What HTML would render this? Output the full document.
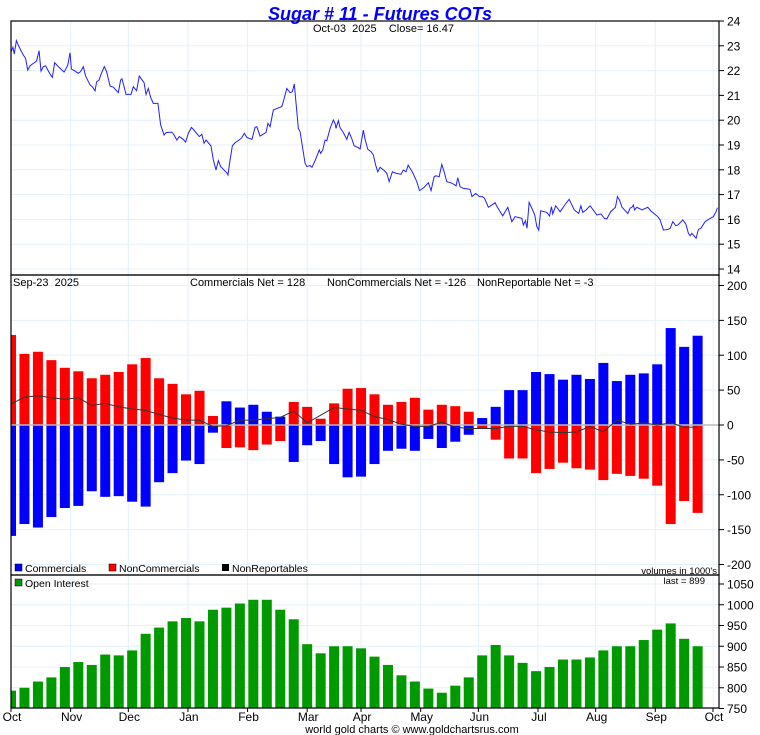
<!DOCTYPE html>
<html><head><meta charset="utf-8">
<style>
html,body{margin:0;padding:0;background:#fff;}
svg{display:block;font-family:"Liberation Sans",sans-serif;}
text{white-space:pre;}
</style></head>
<body>
<svg id="chart" width="760" height="735" viewBox="0 0 760 735" xmlns="http://www.w3.org/2000/svg">
<text x="380" y="20" text-anchor="middle" font-size="18" font-weight="bold" font-style="italic" fill="#0000ff">Sugar # 11 - Futures COTs</text>
<g id="grid"></g>
<g id="marks"></g>
<g id="axes"></g>
<text x="313" y="32" font-size="11" fill="#000" xml:space="preserve">Oct-03  2025    Close= 16.47</text>
<text x="13" y="286" font-size="11" xml:space="preserve">Sep-23  2025</text>
<text x="190" y="286" font-size="11">Commercials Net = 128</text>
<text x="327" y="286" font-size="11">NonCommercials Net = -126</text>
<text x="477" y="286" font-size="11">NonReportable Net = -3</text>
<g font-size="10.5">
<rect x="15" y="564" width="7" height="7" fill="#0000ff" stroke="#000" stroke-width="0.5"/><text x="25" y="572">Commercials</text>
<rect x="109" y="564" width="7" height="7" fill="#ff0000" stroke="#000" stroke-width="0.5"/><text x="119" y="572">NonCommercials</text>
<rect x="222" y="564" width="7" height="7" fill="#000"/><text x="232" y="572">NonReportables</text>
</g>
<text x="717" y="574" font-size="9.5" text-anchor="end">volumes in 1000's</text>
<g font-size="10.5">
<rect x="15" y="579" width="7" height="7" fill="#009900" stroke="#000" stroke-width="0.5"/><text x="25" y="587">Open Interest</text>
</g>
<text x="705" y="584" font-size="9.5" text-anchor="end">last = 899</text>
<text x="412" y="733" font-size="11" text-anchor="middle">world gold charts © www.goldchartsrus.com</text>
</svg>
<script>
const monthLabels=["Oct","Nov","Dec","Jan","Feb","Mar","Apr","May","Jun","Jul","Aug","Sep","Oct"];
const monthDays=[0,31,61,92,123,154,182,213,243,274,304,335,365];
const priceTicks=[14,15,16,17,18,19,20,21,22,23,24];
const cotTicks=[-200,-150,-100,-50,0,50,100,150,200];
const oiTicks=[750,800,850,900,950,1000,1050];
const priceDays=[0,1,1.7,2.8,3.8,5,6.4,7.6,8.7,9.9,11.6,13.3,14.6,15.6,16.8,18,20.3,21.5,22.7,24.6,26,27.6,29.5,30.7,31.4,33.3,35,36.2,37.6,38.8,41.1,42.3,43.7,44.5,45.8,47,48.5,49.7,51.5,53.2,55.8,57,57.7,58.8,59.8,62.4,63.6,65.3,66.7,69.2,70.2,71.4,72.6,74,76.4,77.8,79.6,80.6,83.6,84.8,86.2,87.5,89.3,90.8,92.2,93.8,94.8,97.9,99.2,100.4,101.4,104,105.2,106.6,107.8,109,112.2,112.8,113.9,115.1,116.5,119.1,120,121.3,122.7,125.3,126.9,127.8,129.5,131.2,132.6,133.6,134.7,136.4,138.5,140.8,141.6,143.4,145.1,146.3,147.3,149.4,150.3,152.9,153.8,155.5,156.5,158.1,160.3,161,162.1,163.3,164.2,165.9,167.6,168.5,169,170.2,171.1,172.8,174.6,175.8,177.3,178.4,180.6,181.5,183.2,184.1,185.5,187.2,188.4,189.6,190.7,191.9,194,195.4,196.6,198.3,200.2,202.8,204,205.4,206.5,208.9,211,212.4,214.8,217,218.4,220,221,222.6,224,225.2,226.6,228.6,230.4,231.4,232.3,233.5,235.2,237.3,238.7,239.7,241.6,243.6,245.1,246.2,248.2,251.7,252.9,255.7,258.3,260.4,262.1,264.7,265.6,266.4,267.5,268.3,269.4,270.8,272.3,273.4,274.4,275.4,278.6,280,281,281.7,283.2,285.5,288.3,290.2,292.9,295.2,296.3,297.3,299,301.1,304.6,306.7,308.6,309.8,311.8,314.3,315.3,316.4,317.7,320.7,321.9,323.1,323.6,324.2,325.4,328.1,331.1,332.6,336.3,337.5,339.2,341.8,342.7,344.1,345.6,346.7,349.3,350.9,352.2,353.1,354,356.2,357.4,358.7,360.9,363.5,365.2,366.6,367.3];
const priceValues=[22.76,22.94,22.67,23.21,23.03,22.83,22.63,22.49,22.02,22.19,22.29,22.39,22.8,21.98,22.16,22.19,21.86,21.73,22.32,22.16,22.06,21.94,22.21,22.72,22.06,21.98,21.89,21.96,22.16,21.78,21.42,21.35,21.18,21.55,21.62,21.89,22.16,21.96,21.38,21.33,21.11,21.62,21.67,21.35,21.04,21.04,21.35,21.19,21.78,21.51,21.04,21.28,20.92,20.68,20.68,19.81,19.4,19.5,19.52,19.4,19.2,19.34,19.24,19.12,19.47,19.71,19.63,19.34,19.43,19.07,19.2,18.96,18.4,17.99,18.37,18.13,17.88,17.79,18.4,18.97,19.09,19.23,19.3,19.47,19.3,19.23,19.71,19.74,19.36,19.44,19.5,19.87,19.74,20.41,20.48,20.55,20.75,21.28,21.11,21.15,21.46,19.67,19.54,18.26,18.13,18.17,18.1,18.37,18.8,18.66,18.8,19.2,19.17,19.67,20.01,19.87,19.67,19.98,19.7,19.5,19.23,19.51,19.23,18.97,18.89,18.84,19.6,19.23,18.83,18.73,18.6,18.19,17.92,18.1,17.97,17.86,17.52,17.92,17.86,17.82,17.99,17.92,18.19,17.88,17.52,17.16,17.29,17.48,17.16,17.72,17.76,17.72,18.22,17.92,17.52,17.48,17.41,17.35,17.68,17.32,17.25,17.23,17.21,16.92,17.05,16.92,16.92,16.85,16.49,16.67,16.49,16.14,16.49,15.91,16.11,16.06,16.04,15.77,15.95,15.64,16.69,16.45,16.18,15.71,15.57,16.35,16.28,16.14,16.51,16.22,16.55,16.31,16.62,16.81,16.38,16.24,16.55,16.28,16.38,16.55,16.18,16.22,16.04,16.02,16.31,16.49,16.92,16.78,16.49,16.24,16.45,16.51,16.58,16.38,16.49,16.38,16.49,16.35,16.11,15.98,15.57,15.6,15.64,15.91,15.75,15.77,15.98,15.81,15.44,15.34,15.44,15.24,15.6,15.64,15.91,16.04,16.11,16.31,16.47];
const commercials=[-159,-142,-147,-132,-119,-116,-95,-103,-102,-110,-117,-82,-69,-51,-56,-11,34,25,29,19,12,-53,-29,-23,-56,-75,-74,-56,-37,-34,-37,-20,-33,-24,-14,10,26,50,50,76,73,65,72,66,89,63,72,74,87,139,112,128];
const nonCommercials=[129,102,105,93,82,77,67,72,76,87,96,67,59,44,49,13,-33,-32,-36,-28,-23,33,26,9,31,52,53,44,29,33,39,22,29,27,19,-5,-21,-48,-48,-69,-63,-54,-62,-64,-79,-70,-73,-77,-87,-142,-109,-126];
const nonReportables=[30,40,42,39,37,39,28,31,26,23,21,15,10,7,7,-2,-1,7,7,9,11,20,3,14,25,23,21,12,8,1,-2,-2,4,-3,-5,-5,-5,-2,-2,-7,-10,-11,-10,-2,-10,7,1,3,0,3,-3,-3];
const openInterest=[793,800,815,825,850,862,855,880,878,890,930,945,960,968,960,988,993,1003,1012,1012,988,965,905,883,900,900,895,875,855,830,815,798,788,805,825,878,903,878,860,840,850,868,868,873,890,900,900,915,940,955,918,900];

const NS="http://www.w3.org/2000/svg";
const L=11,R=719;
const xDay=d=>L+d*(713-L)/365;
const xWeek=i=>xDay(i*7);
const yPrice=v=>21+(24-v)*24.8;
const yCot=v=>425-v*0.6975;
const yOI=v=>584+(1050-v)*0.415;
function mk(tag,parent,attrs){const e=document.createElementNS(NS,tag);for(const k in attrs)e.setAttribute(k,attrs[k]);parent.appendChild(e);return e;}
const grid=document.getElementById('grid'),marks=document.getElementById('marks'),axes=document.getElementById('axes');
const GC="#e4f0fa";
monthDays.forEach((d,i)=>{
  const x=xDay(d);
  const g=mk('line',grid,{x1:x,x2:x,y1:21,y2:708,stroke:GC,'stroke-width':1});
  
  
  const t=mk('text',axes,{x:x+1,y:721,'font-size':12,'text-anchor':'middle'});
  t.textContent=monthLabels[i];
  
  
  const tk=mk('line',axes,{x1:x,x2:x,y1:708,y2:712,stroke:'#000'});
  
  
});
function yAxis(ticks,fy,name){
  ticks.forEach(v=>{
    const y=fy(v);
    const g=mk('line',grid,{x1:L,x2:R,y1:y,y2:y,stroke:GC});
    
    
    const tk=mk('line',axes,{x1:R,x2:R+5,y1:y,y2:y,stroke:'#000'});
    
    
    const t=mk('text',axes,{x:R+8,y:y+4.5,'font-size':12});
    t.textContent=v;
    
    
  });
}
yAxis(priceTicks,yPrice,'price-axis');
yAxis(cotTicks,yCot,'cot-axis');
yAxis(oiTicks,yOI,'oi-axis');
const defs=mk('defs',marks,{});
const cp=mk('clipPath',defs,{id:'clipPlot'});
mk('rect',cp,{x:L,y:0,width:R-L,height:735});
const mg=mk('g',marks,{'clip-path':'url(#clipPlot)'});


const BW=10;
function bar(i,v,fill,name){
  const y0=yCot(0),y1=yCot(v);
  const r=mk('rect',mg,{x:xWeek(i)-BW/2,y:Math.min(y0,y1),width:BW,height:Math.abs(y1-y0),fill:fill});
  
  
}
commercials.forEach((v,i)=>bar(i,v,'#0000ff','commercials-bar'));
nonCommercials.forEach((v,i)=>bar(i,v,'#ff0000','noncommercials-bar'));
const z=mk('line',mg,{x1:L,x2:R,y1:yCot(0),y2:yCot(0),stroke:'#bbb','stroke-width':1.5});


const nr=mk('polyline',mg,{points:nonReportables.map((v,i)=>xWeek(i)+','+yCot(v)).join(' '),fill:'none',stroke:'#333','stroke-width':1});


openInterest.forEach((v,i)=>{
  const r=mk('rect',mg,{x:xWeek(i)-BW/2,y:yOI(v),width:BW,height:yOI(750)-yOI(v),fill:'#009900'});
  
  
});
const pl=mk('polyline',mg,{points:priceDays.map((d,i)=>xDay(d)+','+yPrice(priceValues[i])).join(' '),fill:'none',stroke:'#2020ff','stroke-width':1});


[[21,275],[275,575],[575,708]].forEach(([a,b],k)=>{
  const r=mk('rect',axes,{x:L,y:a,width:R-L,height:b-a,fill:'none',stroke:'#000','stroke-width':1.2});
  
  
});
</script>
</body></html>
